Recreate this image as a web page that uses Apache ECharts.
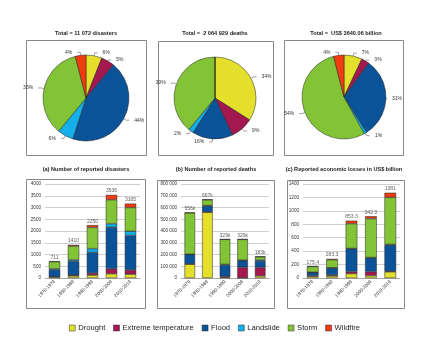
<!DOCTYPE html>
<html><head><meta charset="utf-8">
<script src="https://cdn.jsdelivr.net/npm/echarts@6/dist/echarts.min.js"></script>
<style>html,body{margin:0;padding:0;background:#fff}#c{width:443px;height:358px}</style>
</head><body><div id="c"></div>
<script>
const categories = ['1970-1979','1980-1989','1990-1999','2000-2009','2010-2019'];
const typeNames = ['Drought','Extreme temperature','Flood','Landslide','Storm','Wildfire'];

// Pie shares (%)
const pieDisasters = [6,5,44,6,35,4];
const pieDeaths = [34,9,16,2,39,0];
const pieLosses = [7,3,31,1,54,4];

// (a) number of disasters per decade
const disDrought   = [50, 90, 120, 180, 160];
const disExtTemp   = [5, 30, 90, 210, 180];
const disFlood     = [290, 590, 880, 1770, 1470];
const disLandslide = [50, 60, 160, 150, 180];
const disStorm     = [300, 590, 900, 1020, 1010];
const disWildfire  = [16, 50, 100, 206, 165];
const disTotals    = [711, 1410, 2250, 3536, 3165];
const disLabels    = ['711','1410','2250','3536','3165'];

// (b) number of deaths per decade
const dthDrought   = [118000, 560000, 4000, 1000, 18000];
const dthExtTemp   = [2000, 3000, 10000, 90000, 72000];
const dthFlood     = [80000, 50000, 96000, 58000, 55000];
const dthLandslide = [3000, 4000, 6000, 3000, 8000];
const dthStorm     = [352000, 50000, 213000, 177000, 28000];
const dthWildfire  = [1000, 0, 0, 0, 2000];
const dthTotals    = [556000, 667000, 329000, 329000, 183000];
const dthLabels    = ['556k','667k','329k','329k','183k'];

// (c) economic losses (US$ billion) per decade
const losDrought   = [25, 30, 65, 35, 92];
const losExtTemp   = [10, 15, 30, 60, 10];
const losFlood     = [50, 105, 340, 205, 390];
const losLandslide = [2, 3, 5, 5, 8];
const losStorm     = [85, 120, 370, 580, 700];
const losWildfire  = [3.4, 10.3, 43.3, 35, 70];
const losTotals    = [175.4, 283.3, 853.3, 920, 1270];
const losLabels    = ['175.4','283.3','853.3','942.0','1381'];

const colors = ['#e3df2b','#a3184f','#0b5399','#14b0ea','#82c436','#f03c10'];

const chart = echarts.init(document.getElementById('c'), null, {renderer:'canvas'});

const panels = [
  {series:[disDrought,disExtTemp,disFlood,disLandslide,disStorm,disWildfire], totals:disTotals, labels:disLabels, max:4000, interval:500, fmt:v=>String(v)},
  {series:[dthDrought,dthExtTemp,dthFlood,dthLandslide,dthStorm,dthWildfire], totals:dthTotals, labels:dthLabels, max:800000, interval:100000, fmt:v=>v===0?'0':(v/1000)+' 000'},
  {series:[losDrought,losExtTemp,losFlood,losLandslide,losStorm,losWildfire], totals:losTotals, labels:losLabels, max:1400, interval:200, fmt:v=>String(v)}
];
const grids = [
  {left:45, top:184, width:95, height:94},
  {left:181, top:184, width:88, height:94},
  {left:303, top:184, width:97, height:94}
];
const pies = [
  {data:pieDisasters, center:[86,98], r:43},
  {data:pieDeaths, center:[215,98], r:41},
  {data:pieLosses, center:[344,97], r:42}
];

const series = [];
const xAxis = [], yAxis = [];
panels.forEach((p,i)=>{
  xAxis.push({type:'category', gridIndex:i, data:categories,
    axisLine:{lineStyle:{color:'#999', width:0.7}}, axisTick:{show:false},
    axisLabel:{rotate:45, interval:0, fontSize:4.6, color:'#333', margin:3, fontFamily:'Liberation Sans'}});
  yAxis.push({type:'value', gridIndex:i, min:0, max:p.max, interval:p.interval,
    axisLine:{show:false}, axisTick:{show:false},
    splitLine:{lineStyle:{color:'#bbb', width:0.7}},
    axisLabel:{fontSize:4.6, color:'#333', margin:4, formatter:p.fmt, fontFamily:'Liberation Sans'}});
  p.series.forEach((arr,k)=>{
    series.push({type:'bar', name:typeNames[k], xAxisIndex:i, yAxisIndex:i, stack:'s'+i,
      data:arr, barWidth:'60%', itemStyle:{color:colors[k], borderColor:'#222', borderWidth:0.5}});
  });
  series.push({type:'scatter', xAxisIndex:i, yAxisIndex:i, data:p.totals, symbolSize:0, silent:true,
    label:{show:true, position:'top', distance:1.5, fontSize:5, color:'#333', fontFamily:'Liberation Sans',
      formatter:(q)=>p.labels[q.dataIndex]}});
});
pies.forEach(pc=>{
  series.push({type:'pie', center:pc.center, radius:pc.r, startAngle:90, clockwise:true,
    data:pc.data.map((v,k)=>({name:typeNames[k], value:v, label:{show:v>0}, labelLine:{show:v>0}})),
    itemStyle:{borderColor:'#222', borderWidth:0.5},
    label:{fontSize:5, color:'#333', formatter:(q)=>q.value+'%', fontFamily:'Liberation Sans'},
    labelLine:{length:3, length2:3, lineStyle:{color:'#444', width:0.5}},
    emphasis:{disabled:true}, animation:false});
});

const boxes = [[26,40,120,115],[158,41,115,114],[284,40,119,115],[26,179,119,129],[157,180,117,128],[287,180,117,128]];
const graphics = boxes.map(b=>({type:'rect', shape:{x:b[0]+0.5,y:b[1]+0.5,width:b[2],height:b[3]}, style:{fill:null, stroke:'#888', lineWidth:1}, z:-1}));
const texts = [
  ['Total = 11 072 disasters',86,33],['Total =  2 064 929 deaths',215,33],['Total =  US$ 3640.06 billion',346,33],
  ['(a) Number of reported disasters',86,169],['(b) Number of reported deaths',216,169],['(c) Reported economic losses in US$ billion',344,169]
];
texts.forEach(t=>graphics.push({type:'text', x:t[1], y:t[2], style:{text:t[0], x:0, y:0, textAlign:'center', textVerticalAlign:'middle', fontSize:5.6, fontWeight:'bold', fill:'#222', fontFamily:'Liberation Sans'}}));

chart.setOption({
  animation:false,
  color:colors,
  grid:grids,
  xAxis, yAxis, series,
  graphic:graphics,
  legend:{data:typeNames, left:64, top:319, icon:'rect', itemWidth:6, itemHeight:6, itemGap:8,
    itemStyle:{borderColor:'#333', borderWidth:0.5},
    textStyle:{fontSize:7.6, color:'#222', padding:[0,0,0,-2], fontFamily:'Liberation Sans'}, selectedMode:false}
});
</script></body></html>
